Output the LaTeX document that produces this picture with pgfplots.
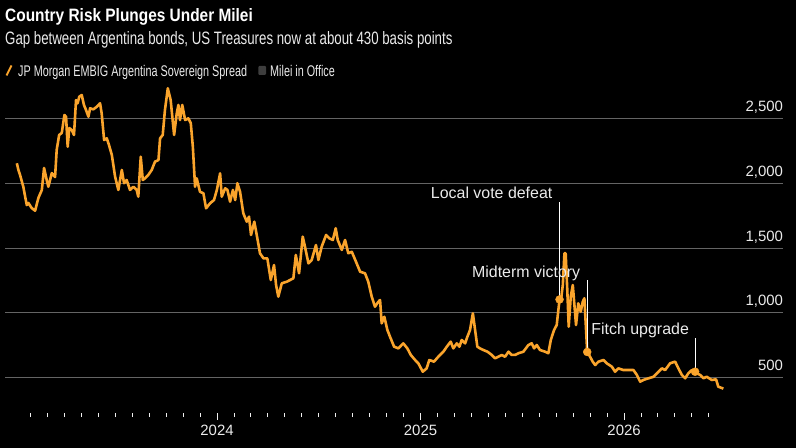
\documentclass[border=0pt]{standalone}
\usepackage{pgfplots}
\pgfplotsset{compat=1.18}
\usepackage{fontspec}
\setmainfont{Liberation Sans}
\newfontfamily\titlefont{Liberation Sans}[FakeStretch=0.86]
\newfontfamily\subfont{Liberation Sans}[FakeStretch=0.74]
\newfontfamily\legfont{Liberation Sans}[FakeStretch=0.70]
\definecolor{spread}{RGB}{250,164,44}
\definecolor{gridc}{RGB}{100,100,100}
\definecolor{txt}{RGB}{235,235,235}
\definecolor{milei}{RGB}{62,62,62}

\pgfplotstableread{
x y
2023.016 2157
2023.024 2105
2023.032 2066
2023.048 1975
2023.057 1898
2023.065 1833
2023.073 1849
2023.089 1810
2023.106 1789
2023.122 1888
2023.139 1950
2023.150 2120
2023.163 2027
2023.171 1975
2023.188 2081
2023.204 2050
2023.212 2260
2023.224 2376
2023.237 2392
2023.250 2531
2023.258 2518
2023.266 2285
2023.274 2430
2023.286 2415
2023.297 2376
2023.307 2647
2023.315 2622
2023.323 2673
2023.335 2686
2023.346 2609
2023.356 2570
2023.368 2518
2023.376 2583
2023.392 2575
2023.409 2595
2023.425 2622
2023.433 2544
2023.445 2337
2023.458 2350
2023.469 2298
2023.483 2221
2023.499 2053
2023.515 1950
2023.532 2105
2023.543 2002
2023.556 2027
2023.572 1950
2023.589 1975
2023.605 1950
2023.613 1898
2023.625 2208
2023.635 2027
2023.646 2040
2023.662 2066
2023.679 2105
2023.695 2169
2023.712 2182
2023.720 2350
2023.733 2376
2023.744 2570
2023.758 2738
2023.772 2647
2023.789 2376
2023.802 2544
2023.810 2609
2023.818 2492
2023.829 2609
2023.843 2492
2023.859 2505
2023.871 2467
2023.881 2285
2023.892 1975
2023.900 2040
2023.916 1936
2023.933 1924
2023.946 1808
2023.966 1847
2023.985 1872
2023.999 1950
2024.015 2079
2024.023 1898
2024.040 1963
2024.051 1950
2024.064 1859
2024.078 1950
2024.089 1872
2024.100 2002
2024.113 1936
2024.129 1769
2024.146 1704
2024.157 1743
2024.167 1601
2024.183 1704
2024.198 1575
2024.211 1459
2024.228 1420
2024.247 1420
2024.264 1252
2024.280 1368
2024.290 1213
2024.301 1123
2024.318 1226
2024.343 1239
2024.359 1252
2024.375 1265
2024.387 1446
2024.403 1304
2024.421 1588
2024.432 1510
2024.449 1381
2024.465 1407
2024.486 1523
2024.498 1407
2024.514 1510
2024.536 1601
2024.552 1575
2024.569 1562
2024.583 1653
2024.593 1562
2024.613 1485
2024.629 1562
2024.645 1459
2024.662 1471
2024.686 1381
2024.703 1316
2024.727 1304
2024.743 1239
2024.760 1123
2024.776 1045
2024.793 1084
2024.801 1097
2024.809 916
2024.822 967
2024.837 864
2024.850 812
2024.870 735
2024.891 722
2024.915 761
2024.935 722
2024.952 671
2024.973 632
2024.989 606
2025.011 541
2025.030 567
2025.043 632
2025.066 619
2025.087 657
2025.112 696
2025.129 735
2025.148 774
2025.161 722
2025.178 761
2025.191 735
2025.202 787
2025.219 761
2025.230 812
2025.243 864
2025.257 994
2025.268 864
2025.279 735
2025.292 722
2025.309 709
2025.329 696
2025.350 671
2025.366 645
2025.382 657
2025.399 671
2025.415 657
2025.432 696
2025.448 671
2025.464 671
2025.481 684
2025.505 696
2025.530 748
2025.546 761
2025.558 722
2025.571 748
2025.587 709
2025.612 696
2025.628 684
2025.640 787
2025.656 864
2025.669 903
2025.683 1101
2025.689 1084
2025.699 1213
2025.707 1459
2025.713 1459
2025.721 1174
2025.728 890
2025.738 1123
2025.748 1213
2025.758 1019
2025.764 903
2025.775 1071
2025.787 1006
2025.797 1084
2025.805 1110
2025.819 694
2025.833 657
2025.846 619
2025.858 593
2025.874 619
2025.899 632
2025.915 606
2025.940 580
2025.956 541
2025.972 567
2025.997 554
2026.021 554
2026.046 554
2026.063 516
2026.079 464
2026.095 477
2026.120 490
2026.145 502
2026.169 541
2026.186 567
2026.202 554
2026.226 606
2026.251 619
2026.267 567
2026.284 516
2026.300 490
2026.316 529
2026.333 554
2026.349 541
2026.357 529
2026.374 516
2026.390 490
2026.406 502
2026.431 477
2026.452 482
2026.463 425
2026.488 410
}\spreaddata

\pgfplotstableread{
x y
2025.683 1101
2025.819 694
2026.349 541
}\eventdata

\begin{document}
\begin{tikzpicture}
\fill[black] (0bp,0bp) rectangle (796bp,448bp);
\useasboundingbox (0bp,0bp) rectangle (796bp,448bp);
% title, subtitle
\node[anchor=base west, inner sep=0pt, text=white, font=\titlefont\bfseries\fontsize{18}{18}\selectfont] at (5bp,426.3bp) {Country Risk Plunges Under Milei};
\node[anchor=base west, inner sep=0pt, text=txt, font=\subfont\fontsize{18}{18}\selectfont] at (5bp,403bp) {Gap between Argentina bonds, US Treasures now at about 430 basis points};
% legend
\draw[spread, line width=2bp] (6.5bp,372.5bp) -- (11.5bp,382.5bp);
\node[anchor=base west, inner sep=0pt, text=txt, font=\legfont\fontsize{15.5}{15.5}\selectfont] at (18bp,371.3bp) {JP Morgan EMBIG Argentina Sovereign Spread};
\fill[milei, rounded corners=1bp] (258.3bp,373bp) rectangle (266bp,382bp);
\node[anchor=base west, inner sep=0pt, text=txt, font=\legfont\fontsize{15.5}{15.5}\selectfont] at (270bp,371.3bp) {Milei in Office};

\begin{axis}[
  at={(5bp,35bp)}, anchor=south west,
  scale only axis, width=778bp, height=332.7bp,
  xmin=2022.958, xmax=2026.781, ymin=221, ymax=2800,
  axis line style={draw=none},
  axis x line*=bottom, axis y line*=right,
  clip=false,
  ytick={500,1000,1500,2000,2500},
  yticklabels={500,{1,000},{1,500},{2,000},{2,500}},
  ymajorgrids, grid style={gridc, line width=1bp},
  ytick style={draw=none},
  yticklabel shift=-5.5bp,
  yticklabel style={anchor=base east, inner sep=0pt, xshift=-1.3bp, yshift=7bp, text=txt, font=\fontsize{15}{15}\selectfont},
  xtick={2024,2025,2026},
  xticklabels={2024,2025,2026},
  minor xtick={2023.0833,2023.1667,2023.25,2023.3333,2023.4167,2023.5,2023.5833,2023.6667,2023.75,2023.8333,2023.9167,
    2024.0833,2024.1667,2024.25,2024.3333,2024.4167,2024.5,2024.5833,2024.6667,2024.75,2024.8333,2024.9167,
    2025.0833,2025.1667,2025.25,2025.3333,2025.4167,2025.5,2025.5833,2025.6667,2025.75,2025.8333,2025.9167,
    2026.0833,2026.1667,2026.25,2026.3333,2026.4167},
  tick align=outside,
  major tick length=7bp, minor tick length=4bp,
  xtick style={draw=txt!80, line width=1bp},
  xticklabel style={anchor=base, inner sep=0pt, yshift=-15.7bp, text=txt, font=\fontsize{15}{15}\selectfont},
]
\addplot[spread, line width=2.6bp, line join=round] table[x=x,y=y] {\spreaddata};
% annotation leaders
\draw[white, line width=1bp] (axis cs:2025.683,1101) -- (axis cs:2025.683,1857);
\draw[white, line width=1bp] (axis cs:2025.8197,694) -- (axis cs:2025.8197,1252);
\draw[white, line width=1bp] (axis cs:2026.349,541) -- (axis cs:2026.349,802);
\addplot[only marks, mark=*, mark size=4bp, spread, mark options={draw=spread, fill=spread}] table[x=x,y=y] {\eventdata};
\node[anchor=base east, inner sep=0pt, text=txt, font=\fontsize{16}{16}\selectfont, xshift=-7bp] at (axis cs:2025.683,1880) {Local vote defeat};
\node[anchor=base east, inner sep=0pt, text=txt, font=\fontsize{16}{16}\selectfont, xshift=-7bp] at (axis cs:2025.8197,1275) {Midterm victory};
\node[anchor=base east, inner sep=0pt, text=txt, font=\fontsize{16}{16}\selectfont, xshift=-6bp] at (axis cs:2026.349,833) {Fitch upgrade};
\end{axis}
\end{tikzpicture}
\end{document}
